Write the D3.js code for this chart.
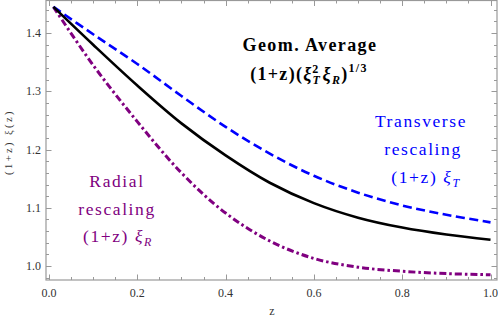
<!DOCTYPE html>
<html>
<head>
<meta charset="utf-8">
<script src="https://cdn.jsdelivr.net/npm/d3@7"></script>
<style>
  body { margin: 0; background: #fff; }
  text { font-family: "Liberation Serif", "DejaVu Serif", serif; }
</style>
</head>
<body>
<svg width="498" height="320"></svg>
<script>
// values
const zvals      = [0.01, 0.1, 0.2, 0.3, 0.4, 0.5, 0.6, 0.7, 0.8, 0.9, 1.0];
const transverse = [1.445, 1.398, 1.347, 1.292, 1.239, 1.193, 1.155, 1.126, 1.104, 1.088, 1.075];
const geomAvg    = [1.445, 1.380, 1.310, 1.245, 1.190, 1.143, 1.108, 1.083, 1.066, 1.054, 1.045];
const radial     = [1.445, 1.345, 1.248, 1.160, 1.091, 1.043, 1.013, 0.998, 0.991, 0.987, 0.985];

const xTicks = [0.0, 0.2, 0.4, 0.6, 0.8, 1.0];
const yTicks = [1.0, 1.1, 1.2, 1.3, 1.4];
const xMinor = d3.range(0, 1.0001, 0.05);
const yMinor = d3.range(0.98, 1.4501, 0.02);

const svg = d3.select('svg');
const pLeft = 46, pRight = 497, pTop = 0.5, pBottom = 280;

const x = d3.scaleLinear().domain([-0.0068, 1.0147]).range([pLeft, pRight]);
const y = d3.scaleLinear().domain([0.976, 1.456]).range([pBottom, pTop]);

const frameCol = '#999';

// ticks inside the frame, on all four sides
const g = svg.append('g').attr('stroke', frameCol).attr('stroke-width', 1);
const tick = (arr, len, horiz) => {
  arr.forEach(v => {
    if (horiz) {
      const px = Math.round(x(v)) + 0.5;
      g.append('line').attr('x1', px).attr('x2', px).attr('y1', pBottom).attr('y2', pBottom - len);
      g.append('line').attr('x1', px).attr('x2', px).attr('y1', pTop).attr('y2', pTop + len);
    } else {
      const py = Math.round(y(v)) + 0.5;
      g.append('line').attr('y1', py).attr('y2', py).attr('x1', pLeft).attr('x2', pLeft + len);
      g.append('line').attr('y1', py).attr('y2', py).attr('x1', pRight).attr('x2', pRight - len);
    }
  });
};
tick(xMinor, 3, true);
tick(xTicks, 5.5, true);
tick(yMinor, 3, false);
tick(yTicks, 5.5, false);

svg.append('rect')
  .attr('x', pLeft).attr('y', pTop)
  .attr('width', pRight - pLeft).attr('height', pBottom - pTop)
  .attr('fill', 'none').attr('stroke', frameCol).attr('stroke-width', 1.2);

// tick labels
svg.append('g').selectAll('text').data(xTicks).join('text')
  .attr('x', d => x(d)).attr('y', 297)
  .attr('text-anchor', 'middle').attr('font-size', 12).attr('fill', '#333')
  .text(d => d.toFixed(1));

svg.append('g').selectAll('text').data(yTicks).join('text')
  .attr('x', 41).attr('y', d => y(d) + 4)
  .attr('text-anchor', 'end').attr('font-size', 12).attr('fill', '#333')
  .text(d => d.toFixed(1));

// axis labels
svg.append('text')
  .attr('x', 272).attr('y', 315)
  .attr('text-anchor', 'middle').attr('font-size', 12).attr('fill', '#333')
  .text('z');

svg.append('text')
  .attr('transform', 'translate(12,142) rotate(-90)')
  .attr('text-anchor', 'middle').attr('font-size', 10.5).attr('fill', '#333')
  .attr('letter-spacing', 2.4)
  .text('(1+z) ξ(z)');

// curves
const line = vals => d3.line()
  .x((d, i) => x(zvals[i]))
  .y(d => y(d))
  .curve(d3.curveCatmullRom)(vals);

svg.append('path').attr('d', line(radial))
  .attr('fill', 'none').attr('stroke', '#800080').attr('stroke-width', 3)
  .attr('stroke-dasharray', '7,3,2.5,3');

svg.append('path').attr('d', line(transverse))
  .attr('fill', 'none').attr('stroke', '#0000ff').attr('stroke-width', 2.6)
  .attr('stroke-dasharray', '9,4.5');

svg.append('path').attr('d', line(geomAvg))
  .attr('fill', 'none').attr('stroke', '#000').attr('stroke-width', 2.6);

// annotations
const title = svg.append('g').attr('font-weight', 'bold').attr('font-size', 18).attr('fill', '#000');
title.append('text').attr('x', 310).attr('y', 51).attr('text-anchor', 'middle')
  .attr('letter-spacing', 1.4).text('Geom. Average');

const t2 = title.append('text').attr('x', 309).attr('y', 80)
  .attr('text-anchor', 'middle').attr('letter-spacing', 1.3);
t2.append('tspan').text('(1+z)(');
t2.append('tspan').attr('font-style', 'italic').text('ξ');
t2.append('tspan').attr('font-style', 'italic').attr('font-size', 12).attr('dy', 4).text('T');
t2.append('tspan').attr('font-size', 12).attr('dx', -9).attr('dy', -11).text('2');
t2.append('tspan').attr('font-style', 'italic').attr('dx', 3).attr('dy', 7).text('ξ');
t2.append('tspan').attr('font-style', 'italic').attr('font-size', 12).attr('dy', 4).text('R');
t2.append('tspan').attr('dy', -4).text(')');
t2.append('tspan').attr('font-size', 12).attr('dy', -8).text('1/3');

const label = col => svg.append('g').attr('font-size', 17.5).attr('fill', col)
  .attr('text-anchor', 'middle').attr('letter-spacing', 1.6);

const tg = label('#0000ff');
tg.append('text').attr('x', 421).attr('y', 127).text('Transverse');
tg.append('text').attr('x', 423).attr('y', 155).text('rescaling');
const tt = tg.append('text').attr('x', 426).attr('y', 183);
tt.append('tspan').text('(1+z) ');
tt.append('tspan').attr('font-style', 'italic').text('ξ');
tt.append('tspan').attr('font-style', 'italic').attr('font-size', 12).attr('dy', 4).text('T');

const rg = label('#800080');
rg.append('text').attr('x', 117).attr('y', 187).text('Radial');
rg.append('text').attr('x', 117).attr('y', 215).text('rescaling');
const rt = rg.append('text').attr('x', 118).attr('y', 242);
rt.append('tspan').text('(1+z) ');
rt.append('tspan').attr('font-style', 'italic').text('ξ');
rt.append('tspan').attr('font-style', 'italic').attr('font-size', 12).attr('dy', 4).text('R');
</script>
</body>
</html>
